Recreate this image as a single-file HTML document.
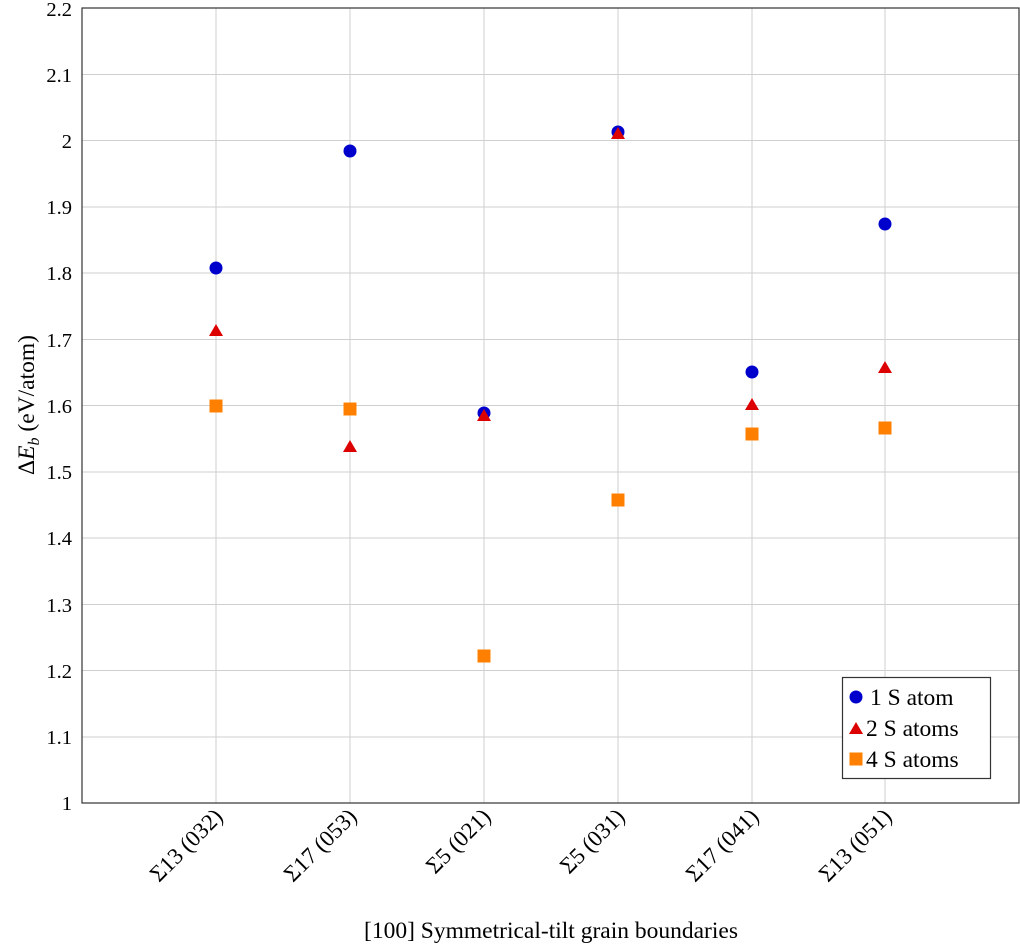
<!DOCTYPE html>
<html><head><meta charset="utf-8"><style>body{margin:0;background:#fff}svg{display:block}text{font-family:"Liberation Serif",serif;fill:#000}</style></head><body>
<svg width="1020" height="945" viewBox="0 0 1020 945" xmlns="http://www.w3.org/2000/svg">
<g stroke="#cfcfcf" stroke-width="1">
<line x1="82" x2="1019" y1="737" y2="737"/><line x1="82" x2="1019" y1="670.5" y2="670.5"/><line x1="82" x2="1019" y1="604.5" y2="604.5"/><line x1="82" x2="1019" y1="538" y2="538"/><line x1="82" x2="1019" y1="472" y2="472"/><line x1="82" x2="1019" y1="405.5" y2="405.5"/><line x1="82" x2="1019" y1="339.5" y2="339.5"/><line x1="82" x2="1019" y1="273" y2="273"/><line x1="82" x2="1019" y1="207" y2="207"/><line x1="82" x2="1019" y1="140.5" y2="140.5"/><line x1="82" x2="1019" y1="74.5" y2="74.5"/>
<line x1="216" x2="216" y1="8" y2="803"/><line x1="350" x2="350" y1="8" y2="803"/><line x1="484" x2="484" y1="8" y2="803"/><line x1="618" x2="618" y1="8" y2="803"/><line x1="752" x2="752" y1="8" y2="803"/><line x1="885" x2="885" y1="8" y2="803"/>
</g>
<rect x="82" y="8" width="937" height="795" fill="none" stroke="#333" stroke-width="1.2"/>
<g font-size="20.5" text-anchor="end">
<text x="72" y="810">1</text><text x="72" y="744">1.1</text><text x="72" y="678">1.2</text><text x="72" y="612">1.3</text><text x="72" y="545">1.4</text><text x="72" y="479">1.5</text><text x="72" y="413">1.6</text><text x="72" y="347">1.7</text><text x="72" y="280">1.8</text><text x="72" y="214">1.9</text><text x="72" y="148">2</text><text x="72" y="82">2.1</text><text x="72" y="16">2.2</text>
</g>
<g font-size="23" text-anchor="end">
<text transform="translate(224,818) rotate(-45)">Σ13 (032)</text>
<text transform="translate(358,818) rotate(-45)">Σ17 (053)</text>
<text transform="translate(492,818) rotate(-45)">Σ5 (021)</text>
<text transform="translate(626,818) rotate(-45)">Σ5 (031)</text>
<text transform="translate(760,818) rotate(-45)">Σ17 (041)</text>
<text transform="translate(893,818) rotate(-45)">Σ13 (051)</text>
</g>
<text x="551" y="938" font-size="23.5" text-anchor="middle">[100] Symmetrical-tilt grain boundaries</text>
<text transform="translate(34,405) rotate(-90)" font-size="23.5" text-anchor="middle">Δ<tspan font-style="italic">E</tspan><tspan font-style="italic" font-size="16" dy="5">b</tspan><tspan dy="-5"> (eV/atom)</tspan></text>
<g fill="#0000cc">
<circle cx="216" cy="268" r="6.5"/><circle cx="350" cy="151" r="6.5"/><circle cx="484" cy="413" r="6.5"/><circle cx="618" cy="132" r="6.5"/><circle cx="752" cy="372" r="6.5"/><circle cx="885" cy="224" r="6.5"/>
</g>
<g fill="#dd0000">
<path d="M216 324l7 12h-14z"/><path d="M350 440l7 12h-14z"/><path d="M484 409l7 12h-14z"/><path d="M618 127l7 12h-14z"/><path d="M752 398l7 12h-14z"/><path d="M885 361l7 12h-14z"/>
</g>
<g fill="#ff8000">
<rect x="209.5" y="399.5" width="13" height="13"/><rect x="343.5" y="402.5" width="13" height="13"/><rect x="477.5" y="649.5" width="13" height="13"/><rect x="611.5" y="493.5" width="13" height="13"/><rect x="745.5" y="427.5" width="13" height="13"/><rect x="878.5" y="421.5" width="13" height="13"/>
</g>
<rect x="842.5" y="677.5" width="148" height="101" fill="#fff" stroke="#333" stroke-width="1.2"/>
<circle cx="856" cy="697" r="6.5" fill="#0000cc"/>
<path d="M856 722l7 12h-14z" fill="#dd0000"/>
<rect x="849.5" y="752.5" width="13" height="13" fill="#ff8000"/>
<g font-size="23.5"><text x="870" y="705">1 S atom</text><text x="866" y="736">2 S atoms</text><text x="866" y="767">4 S atoms</text></g>
</svg>
</body></html>
